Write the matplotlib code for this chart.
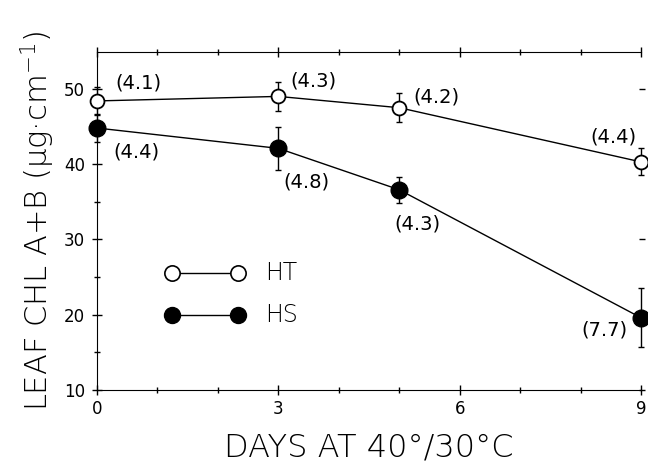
import numpy as np
import matplotlib.pyplot as plt

days = [0, 3, 5, 9]

ht = [48.4, 49.0, 47.5, 40.3]
ht_err = [1.9, 1.9, 1.9, 1.8]
ht_labels = ["(4.1)", "(4.3)", "(4.2)", "(4.4)"]

hs = [44.8, 42.1, 36.6, 19.6]
hs_err = [1.8, 2.9, 1.7, 3.9]
hs_labels = ["(4.4)", "(4.8)", "(4.3)", "(7.7)"]

plt.rcParams['font.family'] = ['DejaVu Sans']
plt.rcParams['mathtext.fontset'] = 'custom'
plt.rcParams['mathtext.rm'] = 'DejaVu Sans:light'

fig = plt.figure(figsize=(6.48, 4.71), dpi=100)
ax = fig.add_axes([0.1497, 0.172, 0.8395, 0.7176])

ax.errorbar(days, ht, yerr=ht_err, fmt='-', color='black', lw=1.0,
            capsize=2.2, elinewidth=1.0, zorder=2, clip_on=False)
ax.plot(days, ht, 'o', ms=10, mfc='white', mec='black', mew=1.3, zorder=3, clip_on=False)
ax.errorbar(days, hs, yerr=hs_err, fmt='-', color='black', lw=1.0,
            capsize=2.2, elinewidth=1.0, zorder=2, clip_on=False)
ax.plot(days, hs, 'o', ms=12, mfc='black', mec='black', zorder=3, clip_on=False)

# label placement (offset points, ha)
ht_pos = [(13, 13, 'left'), (8.6, 10.8, 'left'), (10, 8, 'left'), (-3, 18, 'right')]
hs_pos = [(12, -17, 'left'), (3.6, -24.5, 'left'), (-3.6, -25, 'left'), (-9.4, -8.6, 'right')]
for x, y, s, (dx, dy, ha) in zip(days, ht, ht_labels, ht_pos):
    ax.annotate(s, (x, y), xytext=(dx, dy), textcoords='offset points',
                fontsize=14, ha=ha, va='center')
for x, y, s, (dx, dy, ha) in zip(days, hs, hs_labels, hs_pos):
    ax.annotate(s, (x, y), xytext=(dx, dy), textcoords='offset points',
                fontsize=14, ha=ha, va='center')

# legend drawn in data space
leg_x = [1.24, 2.33]
ax.plot(leg_x, [25.5, 25.5], '-', color='black', lw=1.0)
ax.plot(leg_x, [25.5, 25.5], 'o', ms=11, mfc='white', mec='black', mew=1.2)
ax.text(2.78, 25.5, "HT", fontsize=17, va='center', fontweight='light')
ax.plot(leg_x, [20.0, 20.0], '-', color='black', lw=1.0)
ax.plot(leg_x, [20.0, 20.0], 'o', ms=11.5, mfc='black', mec='black')
ax.text(2.78, 20.0, "HS", fontsize=17, va='center', fontweight='light')

ax.set_xlim(0, 9)
ax.set_ylim(10, 54.9)
ax.set_xticks([0, 3, 6, 9])
ax.set_xticks(np.arange(0, 10, 1), minor=True)
ax.set_yticks([10, 20, 30, 40, 50])
ax.set_yticks(np.arange(15, 55, 10), minor=True)
ax.spines['right'].set_position(('outward', 3))
ax.spines['right'].set_visible(False)
ax.tick_params(which='both', direction='inout', top=True, labelsize=12)
ax.tick_params(which='major', length=7, width=1)
ax.tick_params(which='minor', length=4.5, width=1)
ax.tick_params(axis='y', which='major', right=True, pad=5)
ax.tick_params(axis='y', which='minor', right=False)
for t in ax.yaxis.get_major_ticks():
    t.tick2line.set_marker(0)
    t.tick2line.set_markersize(4)
ax.tick_params(axis='x', pad=4)

ax.set_xlabel("DAYS AT 40°/30°C", fontsize=23, labelpad=10, fontweight='light')
ax.set_ylabel("LEAF CHL A+B (μg·cm$^{-1}$)", fontsize=22, labelpad=5,
              fontweight='light')

fig.savefig("out.png", dpi=100)
